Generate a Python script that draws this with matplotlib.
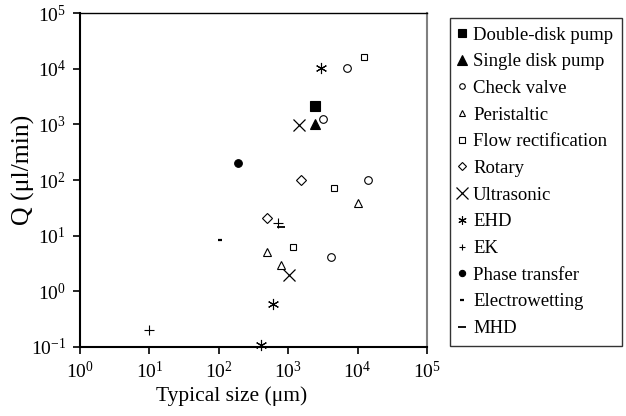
# Micropump flow rate vs typical size (log-log scatter)

import matplotlib
matplotlib.use('Agg')
import matplotlib.pyplot as plt
from matplotlib.lines import Line2D

plt.rcParams['font.family'] = ['Liberation Serif', 'DejaVu Serif']
plt.rcParams['mathtext.fontset'] = 'stix'

# Datos: (tamaño típico en um, caudal en ul/min) por tipo de bomba
pumps = ['Double-disk pump', 'Single disk pump', 'Check valve', 'Peristaltic',
         'Flow rectification', 'Rotary', 'Ultrasonic', 'EHD', 'EK',
         'Phase transfer', 'Electrowetting', 'MHD']
size_um = {
    'Double-disk pump': [2400],
    'Single disk pump': [2450],
    'Check valve': [7100, 3200, 14000, 4150],
    'Peristaltic': [10000, 500, 800],
    'Flow rectification': [12300, 4550, 1180],
    'Rotary': [1520, 500],
    'Ultrasonic': [1410, 1020],
    'EHD': [3000, 600, 410],
    'EK': [10, 720],
    'Phase transfer': [188],
    'Electrowetting': [105],
    'MHD': [790],
}
flow_ulmin = {
    'Double-disk pump': [2100],
    'Single disk pump': [1020],
    'Check valve': [10200, 1230, 102, 4.1],
    'Peristaltic': [39, 5.0, 3.0],
    'Flow rectification': [16000, 72, 6.2],
    'Rotary': [100, 20.5],
    'Ultrasonic': [960, 2.0],
    'EHD': [10200, 0.6, 0.11],
    'EK': [0.2, 16.6],
    'Phase transfer': [205],
    'Electrowetting': [8.2],
    'MHD': [14.3],
}

# Estilo: marker, tamaño, relleno, grosor, tamaño en leyenda
styles = {
    'Double-disk pump': ('s', 7, 'black', 0.8, 6),
    'Single disk pump': ('^', 7.5, 'black', 0.8, 6.5),
    'Check valve': ('o', 5.5, 'white', 0.8, 4),
    'Peristaltic': ('^', 6, 'white', 0.8, 4.5),
    'Flow rectification': ('s', 5, 'white', 0.8, 4),
    'Rotary': ('D', 5, 'white', 0.8, 4),
    'Ultrasonic': ('x', 9, 'none', 0.9, 8),
    'EHD': ((6, 2, 0), 8, 'none', 0.8, 6),
    'EK': ('+', 6.5, 'none', 0.8, 5),
    'Phase transfer': ('o', 5.5, 'black', 0.8, 4.5),
    'Electrowetting': ('_', 3, 'none', 1.6, 3),
    'MHD': ('_', 5.5, 'none', 1.3, 5.5),
}


def main() -> None:
    fig = plt.figure(figsize=(6.26, 4.16), dpi=100)
    ax = fig.add_axes([80 / 626, 69 / 416, 347 / 626, 334 / 416])

    handles = []
    for name in pumps:
        m, ms, fc, lw, lms = styles[name]
        ax.plot(size_um[name], flow_ulmin[name], linestyle='none', marker=m,
                markersize=ms, markerfacecolor=fc, markeredgecolor='black',
                markeredgewidth=lw, color='black', clip_on=False, zorder=3)
        handles.append(Line2D([], [], linestyle='none', marker=m,
                              markersize=lms, markerfacecolor=fc,
                              markeredgecolor='black', markeredgewidth=lw,
                              color='black', label=name))

    ax.set_xscale('log')
    ax.set_yscale('log')
    ax.set_xlim(1, 1e5)
    ax.set_ylim(0.1, 1e5)
    ax.set_xticks([1, 10, 100, 1e3, 1e4, 1e5])
    ax.set_yticks([0.1, 1, 10, 100, 1e3, 1e4, 1e5])
    ax.minorticks_off()
    ax.tick_params(direction='out', length=5, width=1.2, labelsize=14,
                   pad=5)
    for side in ['left', 'bottom']:
        ax.spines[side].set_linewidth(1.5)
    ax.spines['top'].set_linewidth(1.0)
    ax.spines['right'].set_linewidth(1.5)
    ax.spines['right'].set_color('0.5')

    ax.set_xlabel('Typical size (μm)', fontsize=15.5)
    ax.set_ylabel('Q (μl/min)', fontsize=18.5)
    ax.xaxis.set_label_coords(0.438, -0.117)
    ax.yaxis.set_label_coords(-0.13, 0.53)

    leg = fig.legend(handles=handles, loc='upper left',
                     bbox_to_anchor=(450 / 626, 1 - 18 / 416),
                     fontsize=13.5, frameon=True, fancybox=False,
                     edgecolor='black', handlelength=0.35, handletextpad=0.43,
                     borderpad=0.45, borderaxespad=0, labelspacing=0.51)
    leg.get_frame().set_linewidth(1.0)

    fig.savefig('out.png', dpi=100)


if __name__ == '__main__':
    main()
